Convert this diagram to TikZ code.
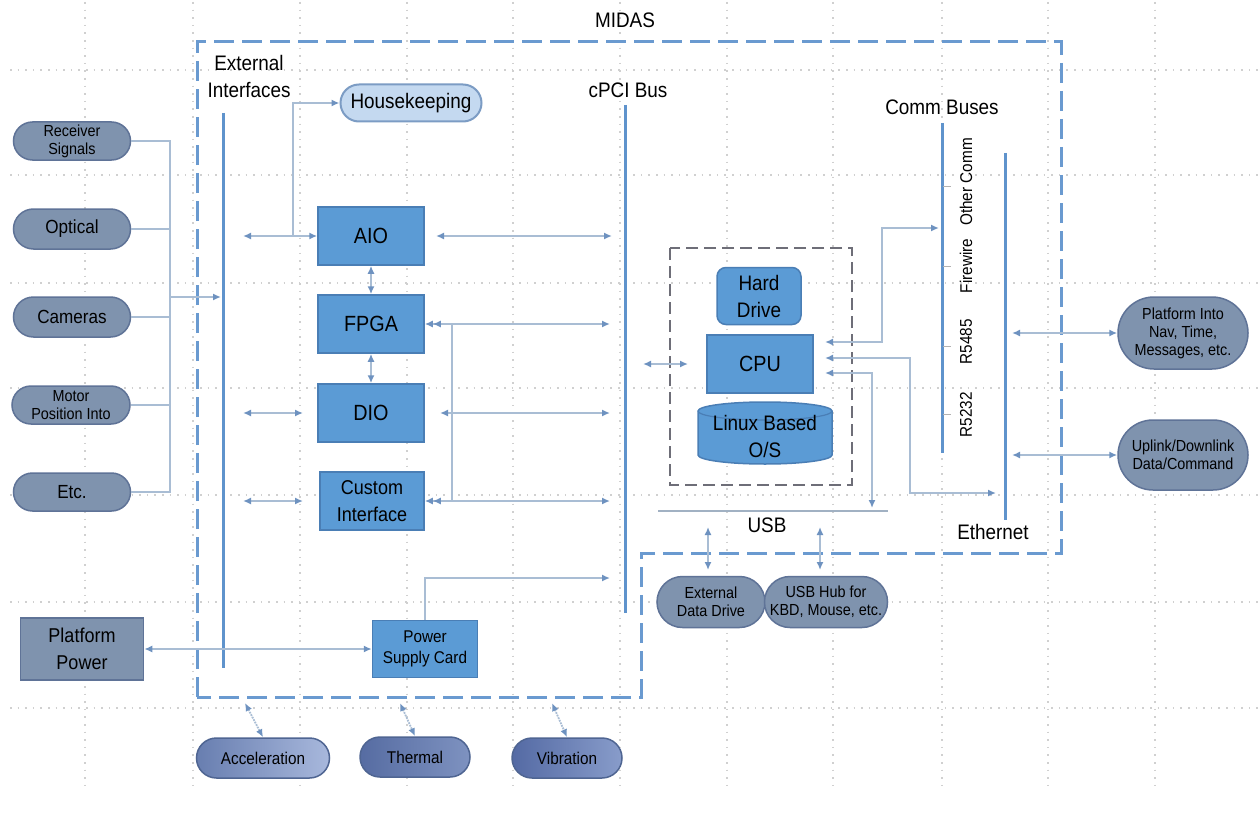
\documentclass[tikz,border=0pt]{standalone}
\usepackage{fontspec}
\setmainfont{Liberation Sans}[FakeStretch=0.9]
\usetikzlibrary{arrows.meta,shapes.misc}
\definecolor{busblue}{HTML}{5F93CC}
\definecolor{dashblue}{HTML}{6A9AD0}
\definecolor{blockfill}{HTML}{5B9BD5}
\definecolor{blockdraw}{HTML}{4A7EB5}
\definecolor{pillfill}{HTML}{7F93AE}
\definecolor{pilldraw}{HTML}{5F7397}
\definecolor{linec}{HTML}{A9BDD4}
\definecolor{tipc}{HTML}{6E92C0}
\definecolor{hkfill}{HTML}{C4D9F0}
\definecolor{hkdraw}{HTML}{7C9CC4}
\definecolor{gridc}{HTML}{D0D0D0}
\definecolor{innerc}{HTML}{6E6E78}
\definecolor{botdraw}{HTML}{4F6592}
\definecolor{accL}{RGB}{104,126,176}
\definecolor{accR}{RGB}{168,184,220}
\definecolor{thL}{RGB}{86,108,162}
\definecolor{thR}{RGB}{126,146,192}
\definecolor{viL}{RGB}{84,106,164}
\definecolor{viR}{RGB}{136,156,202}
\tikzset{
  f16/.style={font=\fontsize{16}{18}\selectfont},
  f17/.style={font=\fontsize{17}{21}\selectfont},
  f19/.style={font=\fontsize{19}{25}\selectfont},
  f20/.style={font=\fontsize{20}{27}\selectfont},
  f21/.style={font=\fontsize{21}{27}\selectfont},
  f22/.style={font=\fontsize{22}{26}\selectfont},
  block/.style={draw=blockdraw, line width=1.5, fill=blockfill, inner sep=0, align=center, text=black},
  pill/.style={rounded rectangle, draw=pilldraw, line width=1.5, fill=pillfill, inner sep=0, align=center, text=black},
  botpill/.style={rounded rectangle, draw=botdraw, line width=1.5, inner sep=0, align=center, text=black, minimum height=40},
  lbl/.style={inner sep=0, align=center, text=black},
  conn/.style={draw=linec, line width=1.8},
  dbl/.style={conn, {Latex[length=8,width=7,color=tipc]}-{Latex[length=8,width=7,color=tipc]}},
  dblL/.style={conn, {Latex[length=8,width=7,color=tipc]Latex[length=8,width=7,color=tipc]}-{Latex[length=8,width=7,color=tipc]}},
  one/.style={conn, -{Latex[length=8,width=7,color=tipc]}},
  bus/.style={draw=busblue, line width=3},
  gridline/.style={draw=gridc, line width=1.4, dash pattern=on 1.6 off 6},
}
\begin{document}
\begin{tikzpicture}[x=1pt,y=-1pt]
\useasboundingbox[fill=white] (0,0) rectangle (1258,824);
% background grid
\foreach \gx in {85,193,300,407,513,620,727,833,942,1048,1155}
  \draw[gridline] (\gx,2) -- (\gx,785);
\foreach \gy in {70,175,283,388,495,602,708}
  \draw[gridline] (10,\gy) -- (1258,\gy);

% MIDAS boundary
\draw[dashblue, line width=3, dash pattern=on 20 off 8] (197,697) -- (197,42) -- (1061,42) -- (1061,553) -- (641,553) -- (641,697) -- cycle;
\node[lbl, f21] (midas) at (625,20) {MIDAS};

% inner CPU box
\draw[innerc, line width=2.5, dash pattern=on 12 off 6] (670,248) rectangle (852,485);

% buses
\coordinate (ei1) at (223,113); \coordinate (ei2) at (223,668);
\coordinate (pci1) at (625,105); \coordinate (pci2) at (625,613);
\coordinate (cb1) at (942,123); \coordinate (cb2) at (942,453);
\coordinate (eth1) at (1005,153); \coordinate (eth2) at (1005,520);
\draw[bus] (ei1) -- (ei2);
\draw[bus] (pci1) -- (pci2);
\draw[bus] (cb1) -- (cb2);
\draw[bus] (eth1) -- (eth2);
\foreach \ty in {186,266,346,414}
  \draw[draw=gray!60, line width=1] (943,\ty) -- (951,\ty);

\node[lbl, f21] (extif) at (249,76) {External\\Interfaces};
\node[lbl, f21] (pcilbl) at (628,90) {cPCI Bus};
\node[lbl, f21] (cblbl) at (942,107) {Comm Buses};
\node[lbl, f21] (ethlbl) at (993,532) {Ethernet};
\node[lbl, f21] (usblbl) at (767,525) {USB};
\node[lbl, f17, rotate=90] (oc) at (966,182) {Other Comm};
\node[lbl, f17, rotate=90] (fw) at (966,266) {Firewire};
\node[lbl, f17, rotate=90] (r485) at (966,342) {R5485};
\node[lbl, f17, rotate=90] (r232) at (966,415) {R5232};

% USB line
\coordinate (usb1) at (658,511); \coordinate (usb2) at (888,511);
\draw[draw=linec!80!gray, line width=2] (usb1) -- (usb2);

% left pills
\node[pill, f16, minimum width=117, minimum height=38] (rs) at (72,141) {Receiver\\Signals};
\node[pill, f19, minimum width=117, minimum height=40] (opt) at (72,229) {Optical};
\node[pill, f19, minimum width=117, minimum height=40] (cam) at (72,317) {Cameras};
\node[pill, f16, minimum width=118, minimum height=38] (mot) at (71,405) {Motor\\Position Into};
\node[pill, f19, minimum width=117, minimum height=38] (etc) at (72,492) {Etc.};
\node[draw=pilldraw, line width=1.5, fill=pillfill, inner sep=0, align=center, f20, minimum width=123, minimum height=62] (pp) at (82,649) {Platform\\Power};

\coordinate (lv) at (170,141);
\draw[conn] (rs.east) -- (lv) -- (lv |- etc.east) -- (etc.east);
\draw[conn] (opt.east) -- (lv |- opt.east);
\draw[conn] (cam.east) -- (lv |- cam.east);
\draw[conn] (mot.east) -- (lv |- mot.east);
\draw[one] (170,297) -- (221,297);

% blocks
\node[rounded rectangle, draw=hkdraw, line width=2, fill=hkfill, inner sep=0, f21, minimum width=141, minimum height=37] (hk) at (411,103) {Housekeeping};
\node[block, f22, minimum width=106, minimum height=58] (aio) at (371,236) {AIO};
\node[block, f22, minimum width=106, minimum height=58] (fpga) at (371,324) {FPGA};
\node[block, f22, minimum width=106, minimum height=58] (dio) at (371,413) {DIO};
\node[block, f20, minimum width=104, minimum height=58] (cust) at (372,501) {Custom\\Interface};
\node[block, f17, minimum width=105, minimum height=57] (psc) at (425,649) {Power\\Supply Card};

\draw[one] (293,236) |- (hk.west);
\draw[dbl] (243,236) -- (aio.west);
\draw[dbl] (436,236) -- (612,236);
\draw[dbl] (aio.south) -- (fpga.north);
\draw[dbl] (fpga.south) -- (dio.north);
\draw[dblL] (fpga.east) -- (610,324);
\draw[dbl] (440,413) -- (610,413);
\draw[dblL] (cust.east) -- (610,501);
\draw[conn] (452,324) -- (452,501);
\draw[dbl] (243,413) -- (303,413);
\draw[dbl] (243,501) -- (303,501);
\draw[dbl] (pp.east) -- (psc.west);
\draw[one] (psc.north) |- (610,578);

% bottom sensors
\node[botpill, f17, minimum width=133, left color=accL, right color=accR] (acc) at (263,758) {Acceleration};
\node[botpill, f17, minimum width=110, left color=thL, right color=thR] (therm) at (415,757) {Thermal};
\node[botpill, f17, minimum width=110, left color=viL, right color=viR] (vib) at (567,758) {Vibration};
\draw[dbl, densely dotted] (245,703) -- (acc.north);
\draw[dbl, densely dotted] (400,703) -- (therm.north);
\draw[dbl, densely dotted] (552,703) -- (vib.north);

% CPU area
\node[block, rounded corners=9, f21, minimum width=84, minimum height=57] (hd) at (759,296) {Hard\\Drive};
\node[block, f22, minimum width=106, minimum height=58] (cpu) at (760,364) {CPU};
\fill[blockfill, draw=blockdraw, line width=1.5] (698,411) -- (698,455) arc[start angle=180, end angle=0, x radius=67, y radius=9] -- (832,411) arc[start angle=0, end angle=-180, x radius=67, y radius=9] -- cycle;
\draw[blockdraw, line width=1.2] (698,411) arc[start angle=180, end angle=0, x radius=67, y radius=9];
\node[lbl, f21] (os) at (765,436) {Linux Based\\O/S};

\draw[dbl] (643,364) -- (688,364);
\draw[dbl] (825,342) -- (882,342) -- (882,228) -- (939,228);
\draw[dbl] (825,358) -- (910,358) -- (910,493) -- (996,493);
\draw[dbl] (825,373) -- (872,373) -- (872,508);

% USB devices
\node[pill, f16, minimum width=108, minimum height=51] (edd) at (711,602) {External\\Data Drive};
\node[pill, f16, minimum width=117, minimum height=51] (hub) at (826,602) {USB Hub for\\KBD, Mouse, etc.};
\draw[dbl] (708,527) -- (708,570);
\draw[dbl] (820,527) -- (820,570);

% right side
\node[pill, f16, minimum width=130, minimum height=72] (pin) at (1183,333) {Platform Into\\Nav, Time,\\Messages, etc.};
\node[pill, f16, minimum width=130, minimum height=70] (upl) at (1183,455) {Uplink/Downlink\\Data/Command};
\draw[dbl] (1012,333) -- (pin.west);
\draw[dbl] (1012,455) -- (upl.west);
\end{tikzpicture}
\end{document}
